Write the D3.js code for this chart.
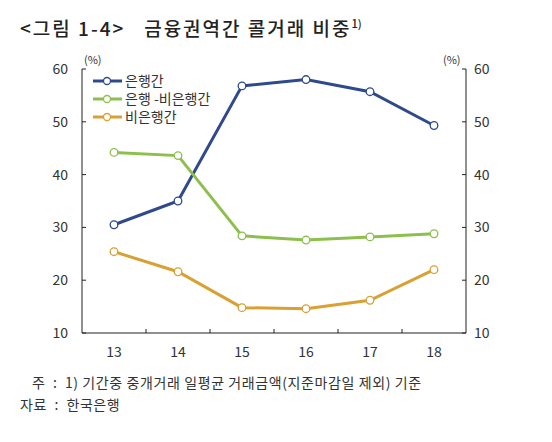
<!DOCTYPE html>
<html><head><meta charset="utf-8">
<script src="https://cdn.jsdelivr.net/npm/d3@7"></script>
<style>body{margin:0;background:#fff;font-family:"Noto Sans CJK KR",sans-serif;} text{white-space:pre;}</style>
</head><body><div id="chart"></div>
<script>
var years = ["13", "14", "15", "16", "17", "18"];
var bankBank = [30.5, 35.0, 56.8, 58.0, 55.7, 49.3];
var bankNonbank = [44.2, 43.6, 28.4, 27.6, 28.2, 28.8];
var nonbankNonbank = [25.4, 21.6, 14.8, 14.6, 16.2, 22.0];
var seriesNames = ["은행간", "은행 -비은행간", "비은행간"];
var colors = ["#2e4a8c", "#8dbf4c", "#d9a032"];
var yTicks = [10, 20, 30, 40, 50, 60];

var svg = d3.select("#chart").append("svg").attr("width", 552).attr("height", 442);

svg.append("text").attr("x", 20).attr("y", 36).attr("font-size", 19).attr("font-weight", 500)
    .attr("letter-spacing", 2).attr("fill", "#222").text("<그림 1-4>   금융권역간 콜거래 비중")
    .append("tspan").attr("dy", -8).attr("font-size", 11).attr("letter-spacing", 0).text("1)");

var x = d3.scaleBand().domain(years).range([82, 466]);
var y = d3.scaleLinear().domain([10, 60]).range([333, 69]);

var g = svg.append("g").attr("font-size", 14).attr("fill", "#333");
g.append("line").attr("x1", 82).attr("x2", 82).attr("y1", 69).attr("y2", 333).attr("stroke", "#222");
g.append("line").attr("x1", 466).attr("x2", 466).attr("y1", 69).attr("y2", 333).attr("stroke", "#222");
g.append("line").attr("x1", 82).attr("x2", 466).attr("y1", 333).attr("y2", 333).attr("stroke", "#222");

yTicks.forEach(function (t) {
    g.append("line").attr("x1", 82).attr("x2", 86).attr("y1", y(t)).attr("y2", y(t)).attr("stroke", "#222");
    g.append("line").attr("x1", 462).attr("x2", 466).attr("y1", y(t)).attr("y2", y(t)).attr("stroke", "#222");
    g.append("text").attr("x", 68).attr("y", y(t) + 5).attr("text-anchor", "end").text(t);
    g.append("text").attr("x", 474).attr("y", y(t) + 5).text(t);
});
g.append("text").attr("x", 84).attr("y", 64).attr("font-size", 11).text("(%)");
g.append("text").attr("x", 443).attr("y", 64).attr("font-size", 11).text("(%)");

years.forEach(function (yr, i) {
    if (i > 0)
        g.append("line").attr("x1", x(yr)).attr("x2", x(yr)).attr("y1", 333).attr("y2", 329).attr("stroke", "#222");
    g.append("text").attr("x", x(yr) + x.bandwidth() / 2).attr("y", 357).attr("text-anchor", "middle").text(yr);
});

var line = d3.line()
    .x(function (d, i) { return x(years[i]) + x.bandwidth() / 2; })
    .y(function (d) { return y(d); });

[bankBank, bankNonbank, nonbankNonbank].forEach(function (s, k) {
    svg.append("path").attr("d", line(s)).attr("fill", "none").attr("stroke", colors[k]).attr("stroke-width", 3);
    svg.selectAll(null).data(s).enter().append("circle")
        .attr("cx", function (d, i) { return x(years[i]) + x.bandwidth() / 2; })
        .attr("cy", function (d) { return y(d); })
        .attr("r", 3.8).attr("fill", "#fff").attr("stroke", colors[k]).attr("stroke-width", 1.3);
    var ly = 81 + k * 18;
    svg.append("line").attr("x1", 93).attr("x2", 122).attr("y1", ly).attr("y2", ly).attr("stroke", colors[k]).attr("stroke-width", 3);
    svg.append("circle").attr("cx", 107).attr("cy", ly).attr("r", 3.5).attr("fill", "#fff").attr("stroke", colors[k]).attr("stroke-width", 1.3);
    svg.append("text").attr("x", 125).attr("y", ly + 5).attr("font-size", 14).attr("fill", "#333").text(seriesNames[k]);
});

svg.append("text").attr("x", 32).attr("y", 388).attr("font-size", 14).attr("letter-spacing", 0.6).attr("fill", "#333")
    .text("주  :  1) 기간중 중개거래 일평균 거래금액(지준마감일 제외) 기준");
svg.append("text").attr("x", 20).attr("y", 410).attr("font-size", 14).attr("letter-spacing", 0.6).attr("fill", "#333")
    .text("자료  :  한국은행");
</script></body></html>
